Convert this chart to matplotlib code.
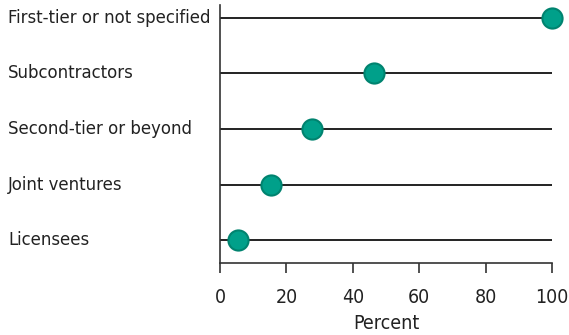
import matplotlib
matplotlib.use("Agg")
import matplotlib.pyplot as plt
from matplotlib import font_manager

categories = ["First-tier or not specified", "Subcontractors", "Second-tier or beyond",
              "Joint ventures", "Licensees"]
values = [100, 46.5, 27.8, 15.5, 5.5]
xticks = [0, 20, 40, 60, 80, 100]

fp = font_manager.FontProperties(family="DejaVu Sans", stretch="condensed")
path = font_manager.findfont(fp)
condensed = "Condensed" in path
plt.rcParams['font.family'] = ["DejaVu Sans"] if condensed else ["Roboto", "DejaVu Sans"]
if condensed:
    plt.rcParams['font.stretch'] = "condensed"
fs = 13.2

W, H = 569, 335
fig = plt.figure(figsize=(W/100, H/100), dpi=100)
ax = fig.add_axes([220/W, 1-263/H, (552-220)/W, (263-5)/H])

n = len(categories)
ys = list(range(n-1, -1, -1))
for y, v in zip(ys, values):
    ax.plot([0, 100], [y, y], color="#222222", lw=1.4, zorder=1, solid_capstyle='butt')
ax.scatter(values, ys, s=14.5**2, color="#00A08A", edgecolors="#00836F", linewidths=1.5,
           zorder=3, clip_on=False)

ax.set_xlim(0, 100)
ax.set_ylim(-0.41, n-1+0.23)
ax.set_xticks(xticks)
ax.set_xticklabels([str(t) for t in xticks], fontsize=fs+0.8, color="#222222")
ax.set_yticks(ys)
ax.set_yticklabels([])
ax.tick_params(axis='y', length=0)
ax.tick_params(axis='x', length=7, width=1.2, color="#333333", pad=11)
for y, c in zip(ys, categories):
    ax.text(-212/332*100, y, c, fontsize=fs, color="#222222", ha='left', va='center')

for s in ["top", "right"]:
    ax.spines[s].set_visible(False)
for s in ["left", "bottom"]:
    ax.spines[s].set_color("#333333")
    ax.spines[s].set_linewidth(1.2)

ax.set_xlabel("Percent", fontsize=fs+0.8, color="#222222", labelpad=5)

fig.savefig("out.png", dpi=100)
